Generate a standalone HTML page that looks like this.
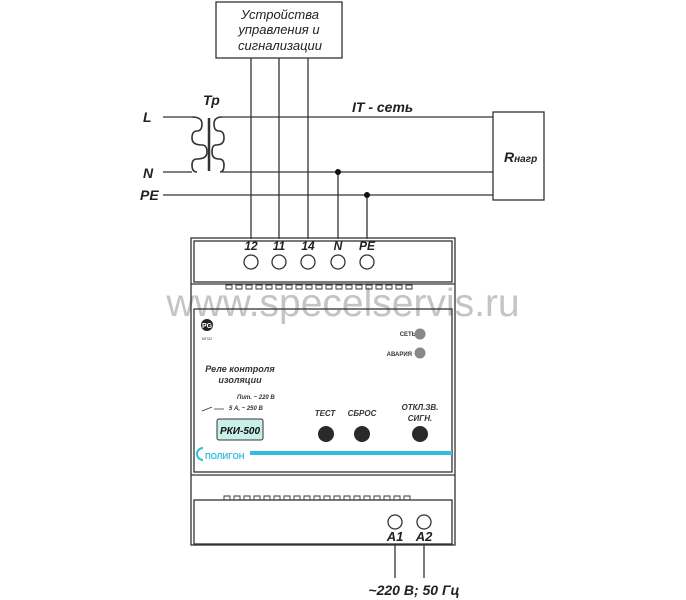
<!DOCTYPE html>
<html><head><meta charset="utf-8"><style>
html,body{margin:0;padding:0;background:#fff;}
svg{display:block;}
text{font-family:"Liberation Sans",sans-serif;}
</style></head><body>
<svg width="686" height="600" viewBox="0 0 686 600" xmlns="http://www.w3.org/2000/svg">
<!-- watermark -->
<text x="343" y="316" font-size="39" fill="#c4c4c4" text-anchor="middle">www.specelservis.ru</text>
<g stroke="#333" stroke-width="1.3" fill="none">
<rect x="216" y="2" width="126" height="56" fill="#fff"/>
<line x1="251" y1="58" x2="251" y2="239"/>
<line x1="279" y1="58" x2="279" y2="239"/>
<line x1="308" y1="58" x2="308" y2="239"/>
<line x1="338" y1="172" x2="338" y2="239"/>
<line x1="367" y1="195" x2="367" y2="239"/>
<line x1="163" y1="117" x2="192" y2="117"/>
<line x1="163" y1="172" x2="192" y2="172"/>
<line x1="222" y1="117" x2="493" y2="117"/>
<line x1="222" y1="172" x2="493" y2="172"/>
<line x1="163" y1="195" x2="493" y2="195"/>
<path d="M192 117 Q202 117 202 124 Q202 131 197 131 Q192 131 192 138 Q192 145 202 145 Q207 145 207 152 Q207 159 197 159 Q192 159 192 165 Q192 172 197 172" stroke-width="1.6"/>
<path d="M222 117 Q214 117 214 124 Q214 131 219 131 Q224 131 224 138 Q224 145 216 145 Q212 145 212 152 Q212 159 219 159 Q224 159 224 165 Q224 172 220 172" stroke-width="1.6"/>
<line x1="209" y1="118" x2="209" y2="171" stroke-width="2.5"/>
<rect x="493" y="112" width="51" height="88" fill="#fff"/>
<rect x="191" y="238" width="264" height="307"/>
<rect x="194" y="241" width="258" height="41"/>
<line x1="191" y1="284" x2="455" y2="284"/>
<rect x="194" y="309" width="258" height="163"/>
<line x1="191" y1="475" x2="455" y2="475"/>
<rect x="194" y="500" width="258" height="44"/>
<circle cx="251" cy="262" r="7"/><circle cx="279" cy="262" r="7"/><circle cx="308" cy="262" r="7"/><circle cx="338" cy="262" r="7"/><circle cx="367" cy="262" r="7"/>
<circle cx="395" cy="522" r="7"/><circle cx="424" cy="522" r="7"/>
<line x1="395" y1="545" x2="395" y2="578"/>
<line x1="424" y1="545" x2="424" y2="578"/>
</g>
<circle cx="338" cy="172" r="3" fill="#111"/>
<circle cx="367" cy="195" r="3" fill="#111"/>
<g fill="none" stroke="#333" stroke-width="0.9">
<path d="M226 285h6v4h-6zM236 285h6v4h-6zM246 285h6v4h-6zM256 285h6v4h-6zM266 285h6v4h-6zM276 285h6v4h-6zM286 285h6v4h-6zM296 285h6v4h-6zM306 285h6v4h-6zM316 285h6v4h-6zM326 285h6v4h-6zM336 285h6v4h-6zM346 285h6v4h-6zM356 285h6v4h-6zM366 285h6v4h-6zM376 285h6v4h-6zM386 285h6v4h-6zM396 285h6v4h-6zM406 285h6v4h-6z"/>
<path d="M224 496h6v4h-6zM234 496h6v4h-6zM244 496h6v4h-6zM254 496h6v4h-6zM264 496h6v4h-6zM274 496h6v4h-6zM284 496h6v4h-6zM294 496h6v4h-6zM304 496h6v4h-6zM314 496h6v4h-6zM324 496h6v4h-6zM334 496h6v4h-6zM344 496h6v4h-6zM354 496h6v4h-6zM364 496h6v4h-6zM374 496h6v4h-6zM384 496h6v4h-6zM394 496h6v4h-6zM404 496h6v4h-6z"/>
</g>
<g font-style="italic" fill="#222">
<text x="280" y="19" font-size="13" text-anchor="middle">Устройства</text>
<text x="279" y="34" font-size="13" text-anchor="middle">управления и</text>
<text x="280" y="50" font-size="13" text-anchor="middle">сигнализации</text>
<g font-weight="bold" font-size="14">
<text x="203" y="105">Тр</text>
<text x="143" y="122">L</text>
<text x="143" y="178">N</text>
<text x="140" y="200">PE</text>
<text x="352" y="112">IT - сеть</text>
<text x="504" y="162">R<tspan font-size="10">нагр</tspan></text>
<text x="251" y="250" font-size="12" text-anchor="middle">12</text>
<text x="279" y="250" font-size="12" text-anchor="middle">11</text>
<text x="308" y="250" font-size="12" text-anchor="middle">14</text>
<text x="338" y="250" font-size="12" text-anchor="middle">N</text>
<text x="367" y="250" font-size="12" text-anchor="middle">PE</text>
<text x="395" y="541" font-size="13" text-anchor="middle">A1</text>
<text x="424" y="541" font-size="13" text-anchor="middle">A2</text>
<text x="414" y="595" font-size="14" text-anchor="middle">~220 В; 50 Гц</text>
</g>
</g>
<circle cx="207" cy="325" r="6" fill="#222"/>
<text x="207" y="328" font-size="7" fill="#fff" text-anchor="middle" font-weight="bold">PG</text>
<text x="207" y="340" font-size="4" fill="#444" text-anchor="middle">МП32</text>
<text x="416" y="336" font-size="6" font-weight="bold" fill="#333" text-anchor="end">СЕТЬ</text>
<text x="412" y="356" font-size="6" font-weight="bold" fill="#333" text-anchor="end">АВАРИЯ</text>
<circle cx="420" cy="334" r="5.5" fill="#888"/>
<circle cx="420" cy="353" r="5.5" fill="#888"/>
<g font-style="italic" font-weight="bold" fill="#333">
<text x="240" y="372" font-size="9" text-anchor="middle">Реле контроля</text>
<text x="240" y="383" font-size="9" text-anchor="middle">изоляции</text>
<text x="237" y="399" font-size="6">Пит.  ~  220 В</text>
<text x="229" y="410" font-size="6">5 А, ~ 250 В</text>
<text x="325" y="416" font-size="8" text-anchor="middle">ТЕСТ</text>
<text x="362" y="416" font-size="8" text-anchor="middle">СБРОС</text>
<text x="420" y="410" font-size="8" text-anchor="middle">ОТКЛ.ЗВ.</text>
<text x="420" y="421" font-size="8" text-anchor="middle">СИГН.</text>
</g>
<path d="M202 411 L212 407 M214 409 L224 409" stroke="#333" stroke-width="0.8" fill="none"/>
<rect x="217" y="419" width="46" height="21" rx="2" fill="#c8efe8" stroke="#333"/>
<text x="240" y="434" font-size="10" font-style="italic" font-weight="bold" fill="#111" text-anchor="middle">РКИ-500</text>
<circle cx="326" cy="434" r="8" fill="#2a2a2a"/>
<circle cx="362" cy="434" r="8" fill="#2a2a2a"/>
<circle cx="420" cy="434" r="8" fill="#2a2a2a"/>
<rect x="250" y="451" width="202" height="4" fill="#30bde0"/>
<path d="M203 448 A6 6 0 1 0 203 460" stroke="#30bde0" stroke-width="2" fill="none"/>
<text x="205" y="459" font-size="8" fill="#30bde0" font-weight="bold">ПОЛИГОН</text>
</svg>
</body></html>
